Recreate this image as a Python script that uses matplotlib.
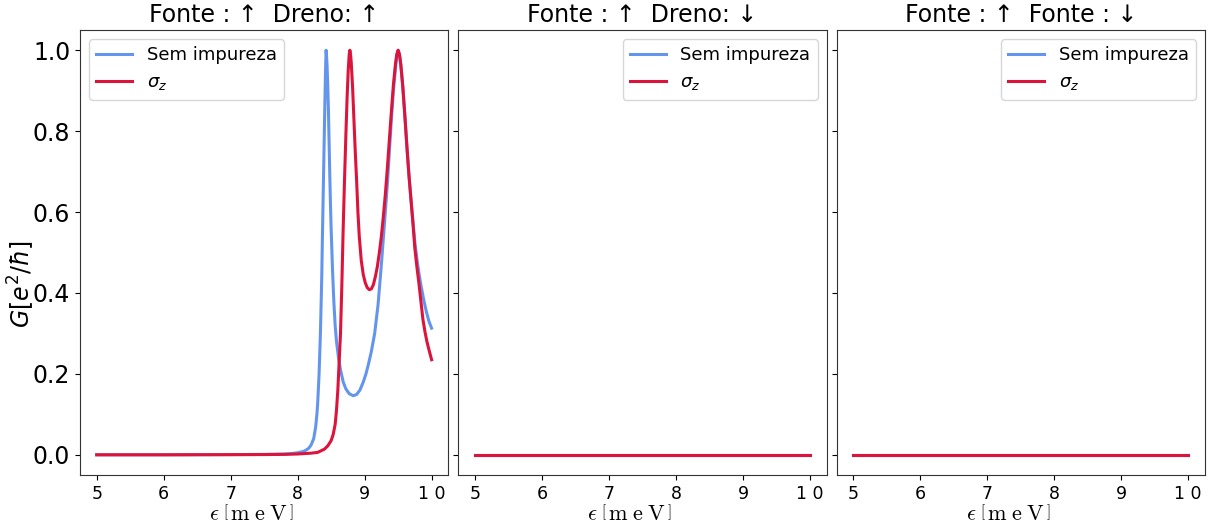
import matplotlib
matplotlib.use("Agg")
import matplotlib.pyplot as plt

# ---- data ----
eps_blue = [5.0, 6.0, 7.0, 7.5, 7.8, 7.9, 8.0, 8.1, 8.165, 8.2, 8.24, 8.25,
            8.27, 8.29, 8.30, 8.32, 8.34, 8.35, 8.36, 8.37, 8.38, 8.39, 8.40,
            8.41, 8.418, 8.425, 8.43, 8.44, 8.45, 8.46, 8.47, 8.48, 8.49, 8.50,
            8.52, 8.54, 8.56, 8.58, 8.61, 8.64, 8.68, 8.72, 8.77, 8.83, 8.88,
            8.93, 8.98, 9.02, 9.06, 9.10, 9.15, 9.20, 9.25, 9.30, 9.34, 9.37,
            9.40, 9.43, 9.46, 9.48, 9.50, 9.52, 9.54, 9.57, 9.60, 9.63, 9.66,
            9.69, 9.72, 9.75, 9.78, 9.81, 9.84, 9.88, 9.92, 9.96, 10.0]
g_blue = [0.0, 0.0, 0.0005, 0.001, 0.002, 0.003, 0.005, 0.009, 0.016, 0.024,
          0.04, 0.05, 0.07, 0.105, 0.13, 0.20, 0.30, 0.37, 0.44, 0.54, 0.63,
          0.72, 0.81, 0.90, 0.96, 1.0, 0.99, 0.96, 0.91, 0.85, 0.77, 0.69,
          0.62, 0.56, 0.46, 0.38, 0.32, 0.28, 0.24, 0.21, 0.18, 0.163, 0.151,
          0.146, 0.149, 0.16, 0.18, 0.20, 0.226, 0.255, 0.30, 0.37, 0.47,
          0.58, 0.67, 0.75, 0.83, 0.90, 0.955, 0.985, 1.0, 0.99, 0.965, 0.91,
          0.84, 0.765, 0.695, 0.635, 0.58, 0.525, 0.485, 0.45, 0.42, 0.385,
          0.355, 0.33, 0.313]

eps_red = [5.0, 6.0, 7.0, 7.5, 7.8, 8.0, 8.2, 8.3, 8.4, 8.45, 8.5, 8.53, 8.56,
           8.58, 8.60, 8.62, 8.64, 8.66, 8.68, 8.70, 8.72, 8.74, 8.755, 8.77,
           8.78, 8.79, 8.80, 8.82, 8.84, 8.86, 8.88, 8.90, 8.92, 8.95, 8.98,
           9.01, 9.04, 9.07, 9.10, 9.13, 9.16, 9.19, 9.22, 9.25, 9.28, 9.31,
           9.34, 9.37, 9.40, 9.43, 9.46, 9.48, 9.50, 9.52, 9.54, 9.57, 9.60,
           9.63, 9.66, 9.69, 9.72, 9.75, 9.78, 9.81, 9.84, 9.87, 9.90, 9.93,
           9.96, 10.0]
g_red = [0.0, 0.0, 0.0003, 0.0006, 0.001, 0.002, 0.004, 0.006, 0.014, 0.022,
         0.035, 0.05, 0.075, 0.11, 0.16, 0.23, 0.30, 0.42, 0.56, 0.68, 0.79,
         0.89, 0.95, 0.99, 1.0, 0.99, 0.97, 0.91, 0.83, 0.75, 0.68, 0.60,
         0.54, 0.48, 0.445, 0.425, 0.413, 0.408, 0.41, 0.42, 0.44, 0.465,
         0.50, 0.54, 0.59, 0.645, 0.71, 0.78, 0.85, 0.915, 0.965, 0.99, 1.0,
         0.99, 0.965, 0.91, 0.84, 0.765, 0.695, 0.635, 0.575, 0.51, 0.465,
         0.425, 0.38, 0.335, 0.305, 0.28, 0.26, 0.235]

eps_flat = [5.0, 10.0]
g_flat = [0.0, 0.0]

titles = ["Fonte : \u2191  Dreno: \u2191",
          "Fonte : \u2191  Dreno: \u2193",
          "Fonte : \u2191  Fonte : \u2193"]
xtick_vals = [5, 6, 7, 8, 9, 10]
xtick_labels = ["5", "6", "7", "8", "9", "1 0"]
ytick_vals = [0.0, 0.2, 0.4, 0.6, 0.8, 1.0]
label_blue = "Sem impureza"
label_red = r"$\sigma_z$"

c_blue = "cornflowerblue"
c_red = "crimson"

fig, axes = plt.subplots(1, 3, sharey=True, figsize=(12.08, 5.32), dpi=100)
fig.subplots_adjust(left=0.0662, right=0.9975, bottom=0.1071, top=0.9436,
                    wspace=0.027)

series = [
    ((eps_blue, g_blue), (eps_red, g_red), "upper left"),
    ((eps_flat, g_flat), (eps_flat, g_flat), "upper right"),
    ((eps_flat, g_flat), (eps_flat, g_flat), "upper right"),
]

for ax, title, (b, r, loc) in zip(axes, titles, series):
    ax.plot(b[0], b[1], color=c_blue, lw=2.2, label=label_blue)
    ax.plot(r[0], r[1], color=c_red, lw=2.2, label=label_red)
    ax.set_title(title, fontsize=17, pad=6)
    ax.set_xticks(xtick_vals)
    ax.set_xticklabels(xtick_labels, fontsize=12.5)
    ax.tick_params(axis="y", labelsize=17)
    ax.set_xlabel(r"$\epsilon\;\left[\,\mathrm{m\;e\;V}\,\right]$",
                  math_fontfamily="cm", fontsize=16)
    ax.xaxis.set_label_coords(0.466, -0.066)
    ax.xaxis.label.set_verticalalignment("top")
    ax.legend(loc=loc, fontsize=13)
    for s in ax.spines.values():
        s.set_color("#333333")

axes[0].set_yticks(ytick_vals)
axes[0].set_ylabel(r"$G[e^2/\hbar]$", fontsize=17)
axes[0].yaxis.set_label_coords(-0.118, 0.43)

fig.savefig("out.png", dpi=100)
